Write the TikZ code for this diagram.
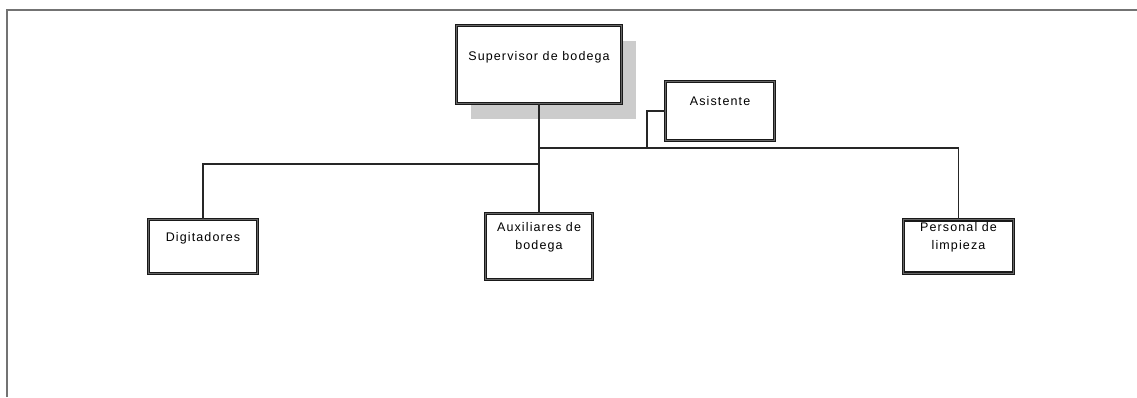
\documentclass[tikz,border=0pt]{standalone}
\usepackage{fontspec}
\setmainfont[LetterSpace=9]{Liberation Sans}
\usetikzlibrary{positioning,shadows}
\tikzset{>=latex}

\begin{document}
\begin{tikzpicture}[x=1pt,y=-1pt,puesto/.style={rectangle, draw=black!90, line width=1.3pt, double=black!60, double distance=1.1pt, fill=white, inner sep=0pt, align=center, font=\fontsize{12.5}{18}\selectfont},linea/.style={draw=black!85, line width=1.8pt},node distance=2cm, on grid]
		\useasboundingbox (0,0) rectangle (1137,397);
		\draw[black!55, line width=2pt] (7,397) -- (7,10) -- (1137,10);

		\node[puesto, minimum width=165pt, text height=34.5pt, text depth=43.5pt, drop shadow={shadow xshift=14pt, shadow yshift=-15pt, fill=black!20, opacity=1}] (sup) at (539,64.5) {Supervisor de bodega};
		\node[puesto, minimum width=109pt, text height=23.6pt, text depth=35.6pt] (asis) [below right=46.5pt and 181pt of sup] {Asistente};
		\node[puesto, minimum width=107pt, text height=35.6pt, text depth=30.6pt] (aux) [below=182pt of sup] {Auxiliares de\\bodega};
		\node[puesto, minimum width=109pt, text height=21.6pt, text depth=32.6pt] (dig) [left=336pt of aux] {Digitadores};
		\node[puesto, minimum width=110pt, text height=29.6pt, text depth=23.6pt] (per) [right=419.5pt of aux] {Personal de\\limpieza};

		\coordinate (c1) at (539,148);
		\coordinate (c2) at (539,164);
		\coordinate (c3) at (647,148);

		\draw[linea] (sup) -- (aux);
		\draw[linea] (c1) -| (per);
		\draw[linea] (c2) -| (dig);
		\draw[linea] (asis) -| (c3);
	\end{tikzpicture}
\end{document}
